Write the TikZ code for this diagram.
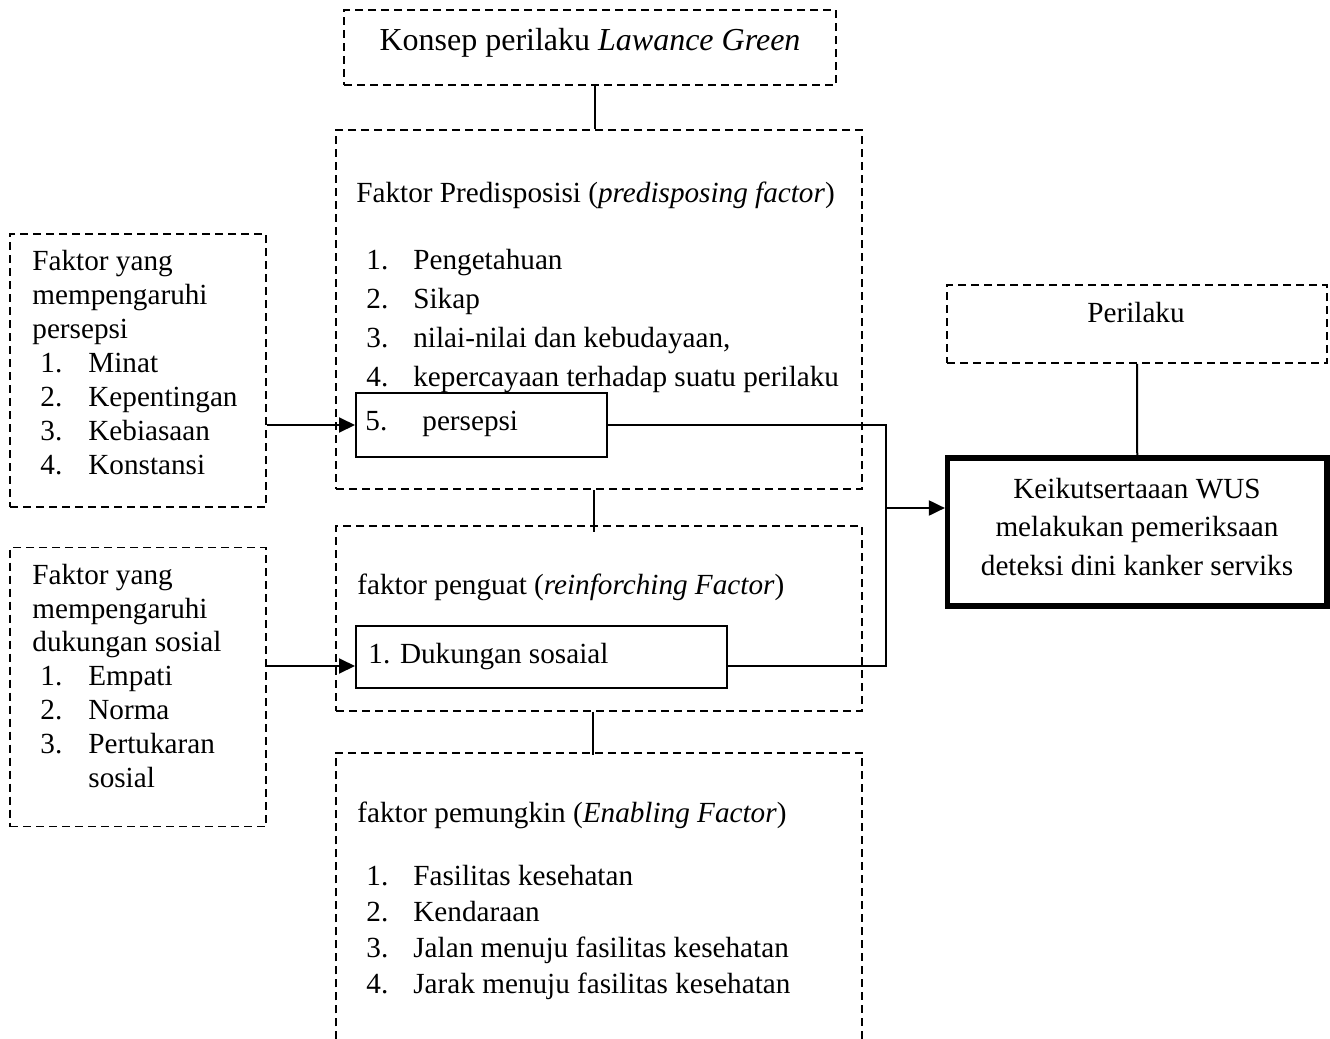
\documentclass[tikz,border=0pt]{standalone}
\usepackage{fontspec}
\setmainfont{Liberation Serif}
\usetikzlibrary{arrows.meta}

\newcommand{\numlab}[2]{\makebox[#1][l]{#2}}

\tikzset{
  dashbox/.style={draw,line width=0.95pt,dash pattern=on 4pt off 2.5pt,inner sep=0pt},
  plainbox/.style={draw,line width=1pt,inner sep=0pt},
  mainbox/.style={draw,line width=2.6pt,inner sep=0pt},
  link/.style={line width=1pt},
  ->/.style={line width=1pt,-{Triangle[length=8pt,width=7.5pt]}}
}
\tikzset{txt/.style={inner sep=0pt,anchor=base west,align=left,font=\fontsize{14.6}{17}\selectfont}}

\begin{document}
\begin{tikzpicture}[x=0.5pt,y=-0.5pt]
    \useasboundingbox (0,0) rectangle (1330,1039);
    % kotak
    \node[dashbox,minimum width=246pt,minimum height=37.5pt] (konsep) at (590,47.5) {};
    \node[dashbox,minimum width=263pt,minimum height=179.5pt] (pred) at (599,309.5) {};
    \node[plainbox,minimum width=125.5pt,minimum height=32pt] (pers) at (481.5,425) {};
    \node[dashbox,minimum width=263pt,minimum height=92.5pt] (peng) at (599,618.5) {};
    \node[plainbox,minimum width=185.5pt,minimum height=31pt] (duk) at (541.5,657) {};
    \node[inner sep=0pt,minimum width=263pt,minimum height=143pt] (pem) at (599,896) {};
    \draw[dashbox] (pem.south west) |- (pem.north east) -- (pem.south east);
    \node[dashbox,minimum width=128pt,minimum height=136.5pt] (fakpers) at (138,370.5) {};
    \node[dashbox,minimum width=128pt,minimum height=139.5pt] (fakduk) at (138,687) {};
    \node[dashbox,minimum width=190pt,minimum height=39pt] (perilaku) at (1137,324) {};
    \node[mainbox,minimum width=189.75pt,minimum height=74pt] (wus) at (1137.25,532) {};

    % teks (anchor base = baris terakhir)
    \node[txt,anchor=base,font=\fontsize{16}{19}\selectfont] (konsept) at (590,50) {Konsep perilaku \textit{Lawance Green}};
    \node[txt] (predt) at (356,202) {Faktor Predisposisi (\textit{predisposing factor})};
    \node[txt,font=\fontsize{14.6}{19.35}\selectfont] (predl) at (366,386)
        {\numlab{23.5pt}{1.}Pengetahuan\\\numlab{23.5pt}{2.}Sikap\\\numlab{23.5pt}{3.}nilai-nilai dan kebudayaan,\\\numlab{23.5pt}{4.}kepercayaan terhadap suatu perilaku};
    \node[txt] (perst) at (365,430) {\numlab{28.5pt}{5.}persepsi};
    \node[txt] (pengt) at (357,594) {faktor penguat (\textit{reinforching Factor})};
    \node[txt] (dukt) at (368,663) {1. Dukungan sosaial};
    \node[txt] (pemt) at (357,822) {faktor pemungkin (\textit{Enabling Factor})};
    \node[txt,font=\fontsize{14.6}{18}\selectfont] (peml) at (366,993)
        {\numlab{23.5pt}{1.}Fasilitas kesehatan\\\numlab{23.5pt}{2.}Kendaraan\\\numlab{23.5pt}{3.}Jalan menuju fasilitas kesehatan\\\numlab{23.5pt}{4.}Jarak menuju fasilitas kesehatan};
    \node[txt] (fakperst) at (32,474)
        {Faktor yang\\mempengaruhi\\persepsi\\\hspace*{4pt}\numlab{24pt}{1.}Minat\\\hspace*{4pt}\numlab{24pt}{2.}Kepentingan\\\hspace*{4pt}\numlab{24pt}{3.}Kebiasaan\\\hspace*{4pt}\numlab{24pt}{4.}Konstansi};
    \node[txt,font=\fontsize{14.6}{16.9}\selectfont] (fakdukt) at (32,787)
        {Faktor yang\\mempengaruhi\\dukungan sosial\\\hspace*{4pt}\numlab{24pt}{1.}Empati\\\hspace*{4pt}\numlab{24pt}{2.}Norma\\\hspace*{4pt}\numlab{24pt}{3.}Pertukaran\\\hspace*{28pt}sosial};
    \node[txt,anchor=base] (perilakut) at (1136,322) {Perilaku};
    \node[txt,anchor=base,align=center,font=\fontsize{14.6}{19.25}\selectfont] (wust) at (1137,575)
        {Keikutsertaaan WUS\\melakukan pemeriksaan\\deteksi dini kanker serviks};

    % garis
    \draw[link] ([xshift=2.5pt]konsep.south) -- ([xshift=2.5pt]konsep.south |- pred.north);
    \draw[link] ([xshift=-2.5pt]pred.south) -- ([xshift=-2.5pt,yshift=-3.5pt]pred.south |- peng.north);
    \draw[link] ([xshift=-3pt]peng.south) -- ([xshift=-3pt,yshift=-1pt]peng.south |- pem.north);
    \draw[link] (perilaku.south) -- (wus.north);
    \coordinate (dukin) at ([yshift=-4.5pt]duk.west);
    \coordinate (dukout) at ([yshift=-4.5pt]duk.east);
    \coordinate (gabung) at (886,508);
    \draw [->] (fakpers.east |- pers.west) -- (pers.west);
    \draw [->] (fakduk.east |- dukin) -- (dukin);
    \draw[link] (pers.east) -| (gabung);
    \draw[link] (dukout) -| (gabung);
    \draw [->] (gabung) -- (gabung -| wus.west);
\end{tikzpicture}
\end{document}
